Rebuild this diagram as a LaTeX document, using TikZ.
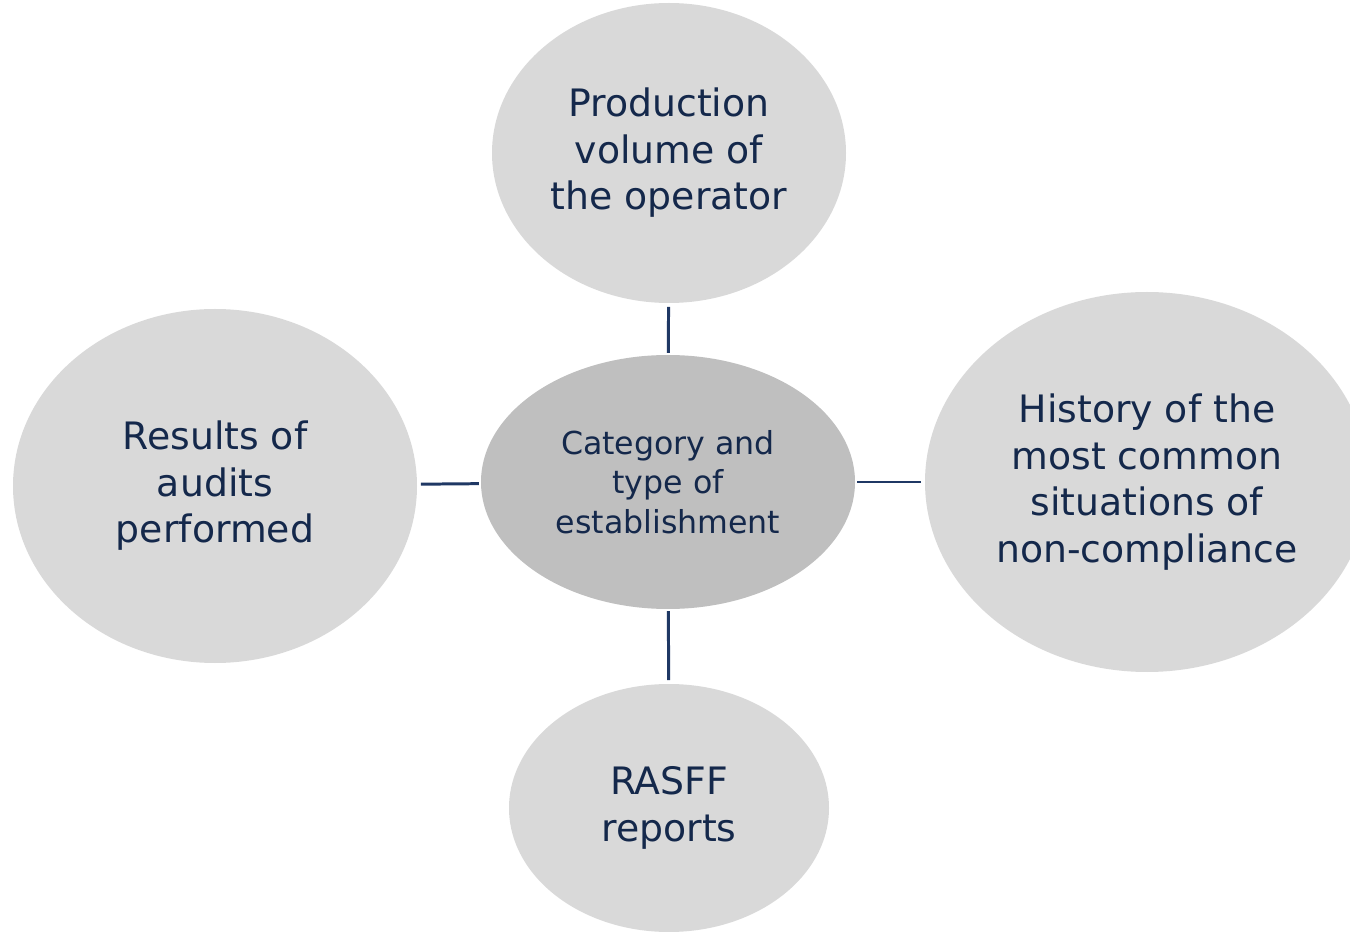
\documentclass[tikz,border=0pt]{standalone}
\usepackage{fontspec}
\usetikzlibrary{shapes.geometric}
\setmainfont{DejaVu Sans}
\definecolor{bubble}{HTML}{D9D9D9}
\definecolor{hub}{HTML}{BFBFBF}
\definecolor{ink}{HTML}{14284B}
\definecolor{wire}{HTML}{1F3864}
\begin{document}
\begin{tikzpicture}[x = 0.02cm, y = -0.02cm,
	blob/.style = {ellipse, fill = bubble, inner sep = 0pt, align = center, text = ink,
		font = \fontsize{21.5}{26.5}\selectfont},
	link/.style = {draw = wire, line width = 1.7pt, shorten <= 2pt, shorten >= 1pt}]
	\useasboundingbox (0,0) rectangle (1350,932);
	\begin{scope}
	\clip (0,0) rectangle (1350,932);
	\node[blob, fill = hub, minimum width = 374*0.02cm, minimum height = 254*0.02cm,
		font = \fontsize{18}{22.5}\selectfont] (cat) at (668,482) {Category and\\type of\\establishment};
	\node[blob, minimum width = 354*0.02cm, minimum height = 300*0.02cm] (prod) at (669,153) {Production\\volume of\\the operator};
	\node[blob, minimum width = 404*0.02cm, minimum height = 354*0.02cm] (audit) at (215,486) {Results of\\audits\\performed};
	\node[blob, minimum width = 444*0.02cm, minimum height = 380*0.02cm] (hist) at (1147,482) {History of the\\most common\\situations of\\non-compliance};
	\node[blob, minimum width = 320*0.02cm, minimum height = 248*0.02cm] (rasff) at (669,808) {RASFF\\reports};
	\end{scope}
	\draw[link] (prod) -- (cat);
	\draw[link] (audit) -- (cat);
	\draw[link] (hist) -- (cat);
	\draw[link] (rasff) -- (cat);
\end{tikzpicture}
\end{document}
